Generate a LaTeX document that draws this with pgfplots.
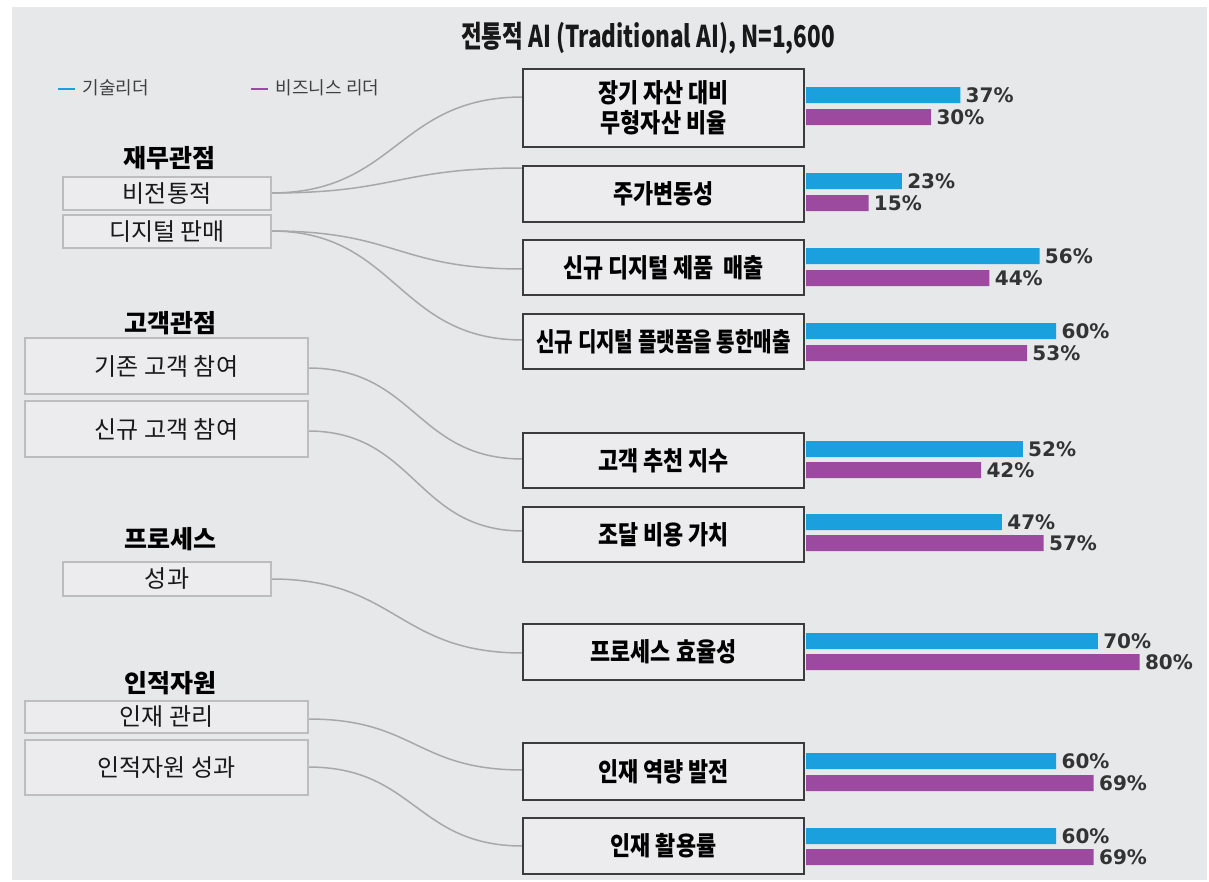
\documentclass[border=0pt]{standalone}
\usepackage{fontspec}
\usepackage{graphicx}
\usepackage{pgfplots}
\pgfplotsset{compat=1.18}

\setmainfont{Noto Sans CJK KR}
\newfontfamily\krnarrow[FakeStretch=0.84]{Noto Sans CJK KR}
\newfontfamily\pctfont{DejaVu Sans}

\definecolor{bgc}{HTML}{E7E8EA}
\definecolor{boxfill}{HTML}{ECECEE}
\definecolor{techblue}{HTML}{1AA0DC}
\definecolor{bizpurple}{HTML}{9B4A9F}
\definecolor{linkgray}{HTML}{A8A8A8}
\definecolor{boxedge}{HTML}{3C3C3C}
\definecolor{softedge}{HTML}{BDBDBD}
\definecolor{txt}{HTML}{333333}

% pixel-like units: 1 unit = 0.5pt, y runs downwards
\newcommand\midbox[3]{%
  \draw[mid] (523,#1) rectangle (804,#2);
  \node[midtext] at (663.5,{(#1+#2)/2}) {#3};}
\newcommand\sidebox[5]{%
  \draw[side] (#1,#2) rectangle (#3,#4);
  \node[sidetext] at ({(#1+#3)/2},{(#2+#4)/2}) {#5};}
\newcommand\link[3]{%
  \draw[link] (#1,#2) .. controls ({(#1+523)/2},#2) and ({(#1+523)/2},#3) .. (523,#3);}

\begin{document}
\begin{tikzpicture}[x=0.5pt,y=-0.5pt,
  mid/.style={draw=boxedge, line width=1pt, fill=boxfill},
  side/.style={draw=softedge, line width=0.6pt, fill=boxfill},
  midtext/.style={font=\krnarrow\bfseries\fontsize{13}{15}\selectfont, align=center, text=black},
  sidetext/.style={font=\fontsize{12}{14}\selectfont, text=black!90},
  head/.style={font=\bfseries\fontsize{12.5}{14}\selectfont, text=black},
  link/.style={draw=linkgray, line width=0.75pt}]

\fill[white] (0,0) rectangle (1209,882);
\fill[bgc] (12,7) rectangle (1207,880);

\node[font=\bfseries\fontsize{15}{17}\selectfont, text=black!90] at (648,38)
  {\scalebox{0.75}[1]{전통적 AI (Traditional AI), N=1,600}};

% connectors
\link{271}{193}{97}
\link{271}{193}{168}
\link{271}{231}{269}
\link{271}{231}{340}
\link{308}{368}{459}
\link{308}{431}{531}
\link{271}{579}{653}
\link{308}{719}{770}
\link{308}{767}{846}

% left column
\node[head] at (169,158) {재무관점};
\sidebox{63}{177}{271}{210}{비전통적}
\sidebox{63}{215}{271}{248}{디지털 판매}
\node[head] at (170,323) {고객관점};
\sidebox{25}{338}{308}{394}{기존 고객 참여}
\sidebox{25}{401}{308}{457}{신규 고객 참여}
\node[head] at (170,539) {프로세스};
\sidebox{63}{562}{271}{596}{성과}
\node[head] at (170,683) {인적자원};
\sidebox{25}{701}{308}{733}{인재 관리}
\sidebox{25}{740}{308}{795}{인적자원 성과}

% middle column
\midbox{69}{147}{장기 자산 대비\\무형자산 비율}
\midbox{166}{222}{주가변동성}
\midbox{240}{295}{신규 디지털 제품\ \ 매출}
\midbox{314}{369}{\scalebox{0.92}[1]{신규 디지털 플랫폼을 통한매출}}
\midbox{433}{488}{고객 추천 지수}
\midbox{507}{562}{조달 비용 가치}
\midbox{624}{680}{프로세스 효율성}
\midbox{743}{800}{인재 역량 발전}
\midbox{818}{874}{인재 활용률}

\begin{axis}[
  at={(403pt,0pt)}, anchor=north west,
  scale only axis, width=166.8pt, height=441pt,
  xmin=0, xmax=80, ymin=0, ymax=882, y dir=reverse,
  hide axis, clip=false,
  xbar, bar width=8pt, bar shift=0pt,
  point meta=x,
  /pgf/number format/assume math mode=true,
  nodes near coords={\pgfmathprintnumber{\pgfplotspointmeta}\%},
  nodes near coords style={font=\pctfont\bfseries\fontsize{10}{12}\selectfont,
    text=txt, anchor=west, inner sep=2.5pt},
  legend columns=2,
  legend image code/.code={\fill[#1] (0pt,-0.6pt) rectangle (8.5pt,0.6pt);},
  legend style={at={(axis cs:-181,89)}, anchor=west, draw=none, fill=none,
    font=\fontsize{9}{11}\selectfont, text=black!75,
    /tikz/every odd column/.append style={column sep=2pt},
    /tikz/every even column/.append style={column sep=49pt}},
]
\addplot[fill=techblue, draw=none] coordinates {
  (37,95) (23,181) (56,256) (60,331) (52,449) (47,522) (70,641) (60,761) (60,836)};
\addplot[fill=bizpurple, draw=none] coordinates {
  (30,117) (15,203) (44,278) (53,353) (42,470) (57,543) (80,662) (69,783) (69,857)};
\legend{기술리더, 비즈니스 리더}
\end{axis}

\pgfresetboundingbox
\useasboundingbox (0,0) rectangle (1209,882);
\end{tikzpicture}
\end{document}
